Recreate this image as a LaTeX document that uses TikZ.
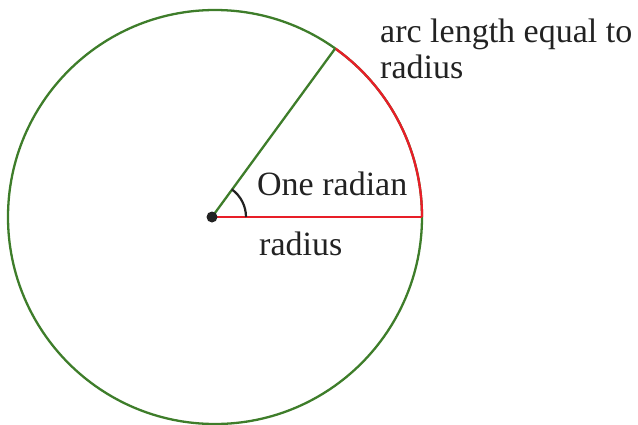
\documentclass[tikz,border=0pt]{standalone}
\usepackage{fontspec}
\setmainfont{Liberation Serif}
\usetikzlibrary{calc}
\definecolor{cgreen}{RGB}{62,125,42}
\definecolor{cred}{RGB}{232,30,40}
\definecolor{ctext}{RGB}{34,34,34}
\tikzset{
  lbl/.style={anchor=base west, inner sep=0pt, text=ctext, font=\fontsize{34}{36}\selectfont},
  gline/.style={draw=cgreen, line width=2.3pt},
  rline/.style={draw=cred, line width=2.3pt},
}
\begin{document}
\begin{tikzpicture}[x=1pt,y=-1pt]
\useasboundingbox (0,0) rectangle (638,424);
\coordinate (O) at (215,217);
\coordinate (D) at (212,217);
\coordinate (R) at (422,217);
\path (O) ++(-54.5:207) coordinate (P);
\path[gline] (O) circle [radius=207];
\path[rline] (R) arc [start angle=0, end angle=-54.5, radius=207];
\path[rline] (D) -- (R);
\path[gline] (D) -- (P);
\draw[ctext, line width=2.2pt] ($(D)+(34,0)$) arc [start angle=0, end angle=-54.5, radius=34];
\node[circle, fill=ctext, inner sep=0pt, minimum size=11pt] (dot) at (D) {};
\node[lbl] (one) at (257,195) {One radian};
\node[lbl] (rad) at (259,255) {radius};
\node[lbl] (arc1) at (380,42) {arc length equal to};
\node[lbl] (arc2) at (380,78) {radius};
\end{tikzpicture}
\end{document}
